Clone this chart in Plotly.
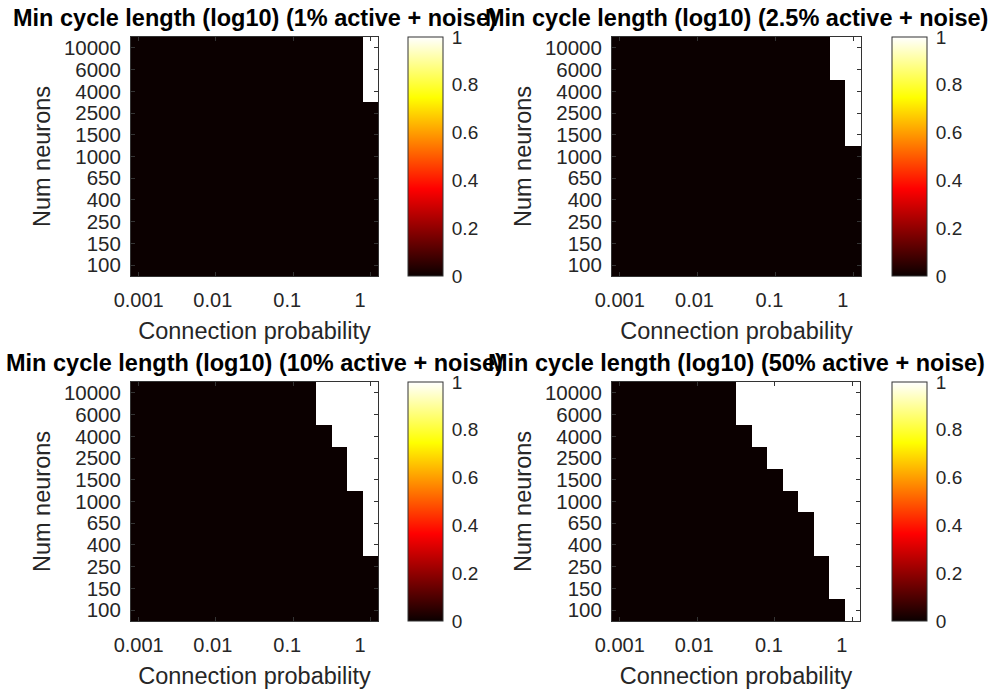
import plotly.graph_objects as go

# ---- data ----
num_neurons = ["100", "150", "250", "400", "650", "1000", "1500", "2500", "4000", "6000", "10000"]
n_cols = 16  # connection-probability columns (log spaced, 0.001 .. 1)
x_tick_idx = [0, 5, 10, 15]            # columns holding 0.001, 0.01, 0.1, 1
x_label_pos = [0, 4.8, 9.62, 14.33]     # where the reference draws those labels
x_tick_text = ["0.001", "0.01", "0.1", "1"]

titles = [
    "Min cycle length (log10) (1% active + noise)",
    "Min cycle length (log10) (2.5% active + noise)",
    "Min cycle length (log10) (10% active + noise)",
    "Min cycle length (log10) (50% active + noise)",
]

# first column index (0-based) that is white (value 1), per row from 100 (bottom) up to 10000 (top);
# None = whole row black
first_white_1 = [None, None, None, None, None, None, None, None, 15, 15, 15]
first_white_2_5 = [None, None, None, None, None, None, 15, 15, 15, 14, 14]
first_white_10 = [None, None, None, 15, 15, 15, 14, 14, 13, 12, 12]
first_white_50 = [15, 14, 14, 13, 13, 12, 11, 10, 9, 8, 8]
panels = [first_white_1, first_white_2_5, first_white_10, first_white_50]
cbar_ticks = [0, 0.2, 0.4, 0.6, 0.8, 1]
cbar_text = ["0", "0.2", "0.4", "0.6", "0.8", "1"]


def build_z(first_white):
    z = []
    for fw in first_white:
        row = []
        for c in range(n_cols):
            row.append(1 if (fw is not None and c >= fw) else 0)
        z.append(row)
    return z


hot = [
    [0.0, "rgb(11,0,0)"],
    [0.365, "rgb(255,0,0)"],
    [0.746, "rgb(255,255,0)"],
    [1.0, "rgb(255,255,255)"],
]

W, H = 990, 691
# pixel boxes of the plot areas (left, right, top, bottom)
boxes = [
    (131, 378, 37, 276),
    (612, 861, 37, 276),
    (131, 378, 382, 621),
    (612, 860, 382, 621),
]
cbar_left = [408, 892, 408, 892]

FONT = "Liberation Sans, Arial, Helvetica, sans-serif"
AX_COLOR = "#333333"

fig = go.Figure()
annotations = []
for i, (fw, box) in enumerate(zip(panels, boxes)):
    l, r, t, b = box
    xa = "x" if i == 0 else f"x{i+1}"
    ya = "y" if i == 0 else f"y{i+1}"
    fig.add_trace(go.Heatmap(
        z=build_z(fw),
        x=list(range(n_cols)),
        y=num_neurons,
        xaxis=xa, yaxis=ya,
        colorscale=hot, zmin=0, zmax=1,
        hoverinfo="skip",
        colorbar=dict(
            x=cbar_left[i] / W, xanchor="left", xref="paper",
            y=1 - t / H, yanchor="top", yref="paper",
            len=b - t, lenmode="pixels",
            thickness=35, thicknessmode="pixels",
            xpad=0, ypad=0,
            outlinewidth=1, outlinecolor=AX_COLOR,
            tickvals=cbar_ticks,
            ticktext=cbar_text,
            ticks="outside", ticklen=5, tickcolor="rgba(0,0,0,0)",
            tickfont=dict(family=FONT, size=19, color="#262626"),
        ),
    ))
    xkey = "xaxis" if i == 0 else f"xaxis{i+1}"
    ykey = "yaxis" if i == 0 else f"yaxis{i+1}"
    fig.layout[xkey] = dict(
        domain=[l / W, r / W], anchor=ya,
        range=[-0.5, n_cols - 0.5],
        tickmode="array", tickvals=x_label_pos, ticktext=x_tick_text,
        ticks="outside", ticklen=0, tickcolor="rgba(0,0,0,0)",
        minor=dict(tickmode="array", tickvals=x_tick_idx, ticks="inside",
                   ticklen=4, tickcolor=AX_COLOR, tickwidth=1, showgrid=False),
        showline=True, linecolor=AX_COLOR, linewidth=1, mirror="ticks",
        showgrid=False, zeroline=False,
        ticklabelstandoff=6,
        tickfont=dict(family=FONT, size=20, color="#262626"),
        title=dict(text="Connection probability", standoff=12,
                   font=dict(family=FONT, size=23.5, color="#262626")),
    )
    fig.layout[ykey] = dict(
        domain=[1 - b / H, 1 - t / H], anchor=xa,
        type="category",
        tickmode="array", tickvals=num_neurons, ticktext=num_neurons,
        ticks="inside", ticklen=4, tickcolor=AX_COLOR, tickwidth=1,
        showline=True, linecolor=AX_COLOR, linewidth=1, mirror="ticks",
        showgrid=False, zeroline=False,
        ticklabelstandoff=5,
        tickfont=dict(family=FONT, size=20.5, color="#262626"),
        title=dict(text="Num neurons", standoff=6,
                   font=dict(family=FONT, size=23.5, color="#262626")),
    )
    annotations.append(dict(
        text="<b>" + titles[i] + "</b>",
        x=(l + r) / 2 / W, y=1 - (t - 19) / H,
        xref="paper", yref="paper", xanchor="center", yanchor="middle",
        showarrow=False,
        font=dict(family=FONT, size=23.5, color="black"),
    ))

fig.update_layout(
    width=W, height=H,
    margin=dict(l=0, r=0, t=0, b=0, autoexpand=False),
    paper_bgcolor="white", plot_bgcolor="white",
    showlegend=False,
    annotations=annotations,
)

fig.write_html("out.html", config={"displayModeBar": False},
               post_script="document.body.style.margin='0';")
